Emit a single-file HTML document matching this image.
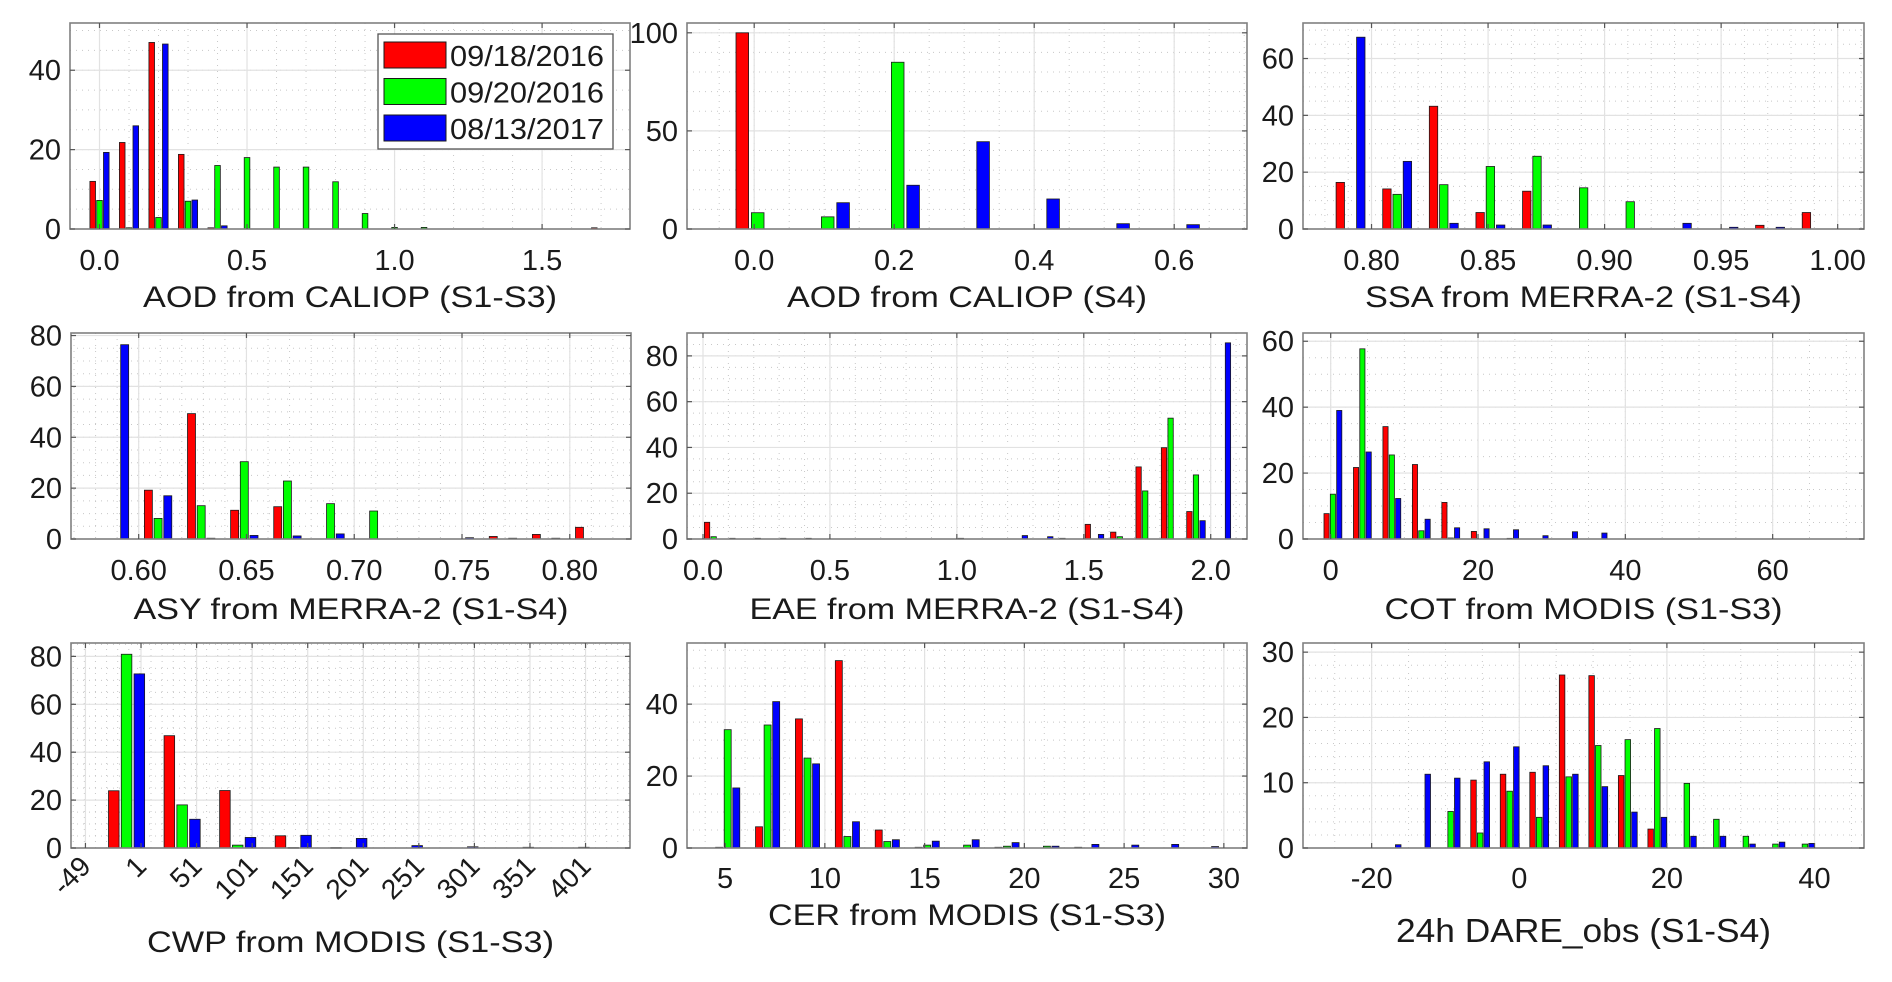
<!DOCTYPE html>
<html><head><meta charset="utf-8"><style>
html,body{margin:0;padding:0;background:#fff;}
svg{display:block;}
text{font-family:"Liberation Sans",sans-serif;fill:#1a1a1a;}
</style></head><body>
<svg id="fig" width="1892" height="982" viewBox="0 0 1892 982" xmlns="http://www.w3.org/2000/svg"></svg>
<script>
// ---------- Panel 1: AOD from CALIOP (S1-S3)
const p1Bins = [0,0.1,0.2,0.3,0.4,0.5,0.6,0.7,0.8,0.9,1.0,1.1,1.7];
const p1Red = [12,21.8,47,18.8,0.3,0,0,0,0,0,0,0,0.3];
const p1Green = [7.2,0.3,2.9,7,16,18,15.6,15.6,11.9,3.9,0.4,0.4,0];
const p1Blue = [19.3,26,46.6,7.3,0.8,0,0,0,0,0,0,0,0];
const p1XTicks = [0,0.5,1.0,1.5];
const p1XLabels = ["0.0","0.5","1.0","1.5"];
const p1YTicks = [0,20,40];
// ---------- Panel 2: AOD from CALIOP (S4)
const p2Bins = [0.005,0.105,0.205,0.305,0.405,0.505,0.605];
const p2Red = [100,0,0,0,0,0,0];
const p2Green = [8.3,6.2,85,0,0,0,0];
const p2Blue = [0,13.4,22.3,44.5,15.3,2.7,2.2];
const p2XTicks = [0,0.2,0.4,0.6];
const p2XLabels = ["0.0","0.2","0.4","0.6"];
const p2YTicks = [0,50,100];
// ---------- Panel 3: SSA
const p3Bins = [0.791,0.811,0.831,0.851,0.871,0.891,0.911,0.931,0.951,0.971,0.991];
const p3Red = [16.4,14.1,43.2,5.8,13.3,0,0,0,0,1.3,5.8];
const p3Green = [0,12.2,15.6,22,25.6,14.5,9.6,0,0,0,0];
const p3Blue = [67.5,23.8,2,1.4,1.4,0,0,2,0.6,0.6,0];
const p3XTicks = [0.80,0.85,0.90,0.95,1.00];
const p3XLabels = ["0.80","0.85","0.90","0.95","1.00"];
const p3YTicks = [0,20,40,60];
// ---------- Panel 4: ASY
const p4Bins = [0.589,0.609,0.629,0.649,0.669,0.689,0.709,0.729,0.749,0.769,0.789,0.809];
const p4Red = [0,19.2,49.3,11.3,12.7,0,0,0,0,1,1.8,4.6];
const p4Green = [0,8.1,13.1,30.4,22.8,13.9,11,0,0,0,0,0];
const p4Blue = [76.4,17,0.3,1.4,1.2,2,0,0,0.5,0.3,0.3,0];
const p4XTicks = [0.60,0.65,0.70,0.75,0.80];
const p4XLabels = ["0.60","0.65","0.70","0.75","0.80"];
const p4YTicks = [0,20,40,60,80];
// ---------- Panel 5: EAE
const p5Bins = [0.042,0.142,0.242,0.342,0.442,0.542,0.642,0.742,0.842,0.942,1.042,1.142,1.242,1.342,1.442,1.542,1.642,1.742,1.842,1.942,2.042];
const p5Red = [7.3,0.3,0.3,0.3,0.3,0,0,0,0,0,0.3,0,0,0,0.3,6.4,3,31.5,39.9,12,0];
const p5Green = [1,0,0,0,0,0,0,0,0,0,0,0,0,0,0,0,1,21,52.8,28,0];
const p5Blue = [0,0,0,0,0,0,0,0,0,0,0,0,1.5,1,0,2,0,0,0,8,85.7];
const p5XTicks = [0,0.5,1.0,1.5,2.0];
const p5XLabels = ["0.0","0.5","1.0","1.5","2.0"];
const p5YTicks = [0,20,40,60,80];
// ---------- Panel 6: COT
const p6Bins = [0.3,4.3,8.3,12.3,16.3,20.3,24.3,28.3,32.3,36.3];
const p6Red = [7.7,21.7,34.1,22.6,11.1,2.3,0,0,0,0];
const p6Green = [13.6,57.7,25.5,2.5,0.3,0,0.2,0,0,0];
const p6Blue = [39,26.4,12.3,6,3.4,3.1,2.8,1,2.2,1.8];
const p6XTicks = [0,20,40,60];
const p6XLabels = ["0","20","40","60"];
const p6YTicks = [0,20,40,60];
// ---------- Panel 7: CWP
const p7Bins = [-12,38,88,138,188,238,288,338,388];
const p7Red = [23.9,46.9,24,5.1,0.2,0,0,0,0];
const p7Green = [80.9,18,1.2,0.2,0,0,0,0,0];
const p7Blue = [72.7,12,4.4,5.3,4,1,0.5,0.3,0.3];
const p7XTicks = [-49,1,51,101,151,201,251,301,351,401];
const p7XLabels = ["-49","1","51","101","151","201","251","301","351","401"];
const p7YTicks = [0,20,40,60,80];
// ---------- Panel 8: CER
const p8Bins = [5.13,7.13,9.13,11.13,13.13,15.13,17.13,19.13,21.13,23.13,25.13,27.13,29.13];
const p8Red = [0.2,5.9,35.9,52.1,5,0.2,0,0.2,0,0.2,0,0,0];
const p8Green = [32.9,34.2,25,3.2,1.8,0.8,0.8,0.5,0.5,0,0,0,0];
const p8Blue = [16.7,40.7,23.4,7.3,2.3,1.9,2.3,1.5,0.5,1,0.8,1,0.4];
const p8XTicks = [5,10,15,20,25,30];
const p8XLabels = ["5","10","15","20","25","30"];
const p8YTicks = [0,20,40];
// ---------- Panel 9: DARE
const p9Bins = [-17.3,-13.3,-9.3,-5.3,-1.3,2.7,6.7,10.7,14.7,18.7,22.7,26.7,30.7,34.7,38.7];
const p9Red = [0,0,0,10.4,11.3,11.6,26.5,26.4,11.1,2.9,0,0,0,0,0];
const p9Green = [0,0,5.6,2.3,8.7,4.7,10.9,15.7,16.6,18.3,9.9,4.4,1.8,0.6,0.6];
const p9Blue = [0.5,11.3,10.7,13.2,15.5,12.6,11.3,9.4,5.5,4.7,1.8,1.8,0.6,0.9,0.7];
const p9XTicks = [-20,0,20,40];
const p9XLabels = ["-20","0","20","40"];
const p9YTicks = [0,10,20,30];

const legendLabels = ["09/18/2016","09/20/2016","08/13/2017"];
const seriesColors = ["#ff0000","#00ff00","#0000ff"];

const NS = "http://www.w3.org/2000/svg";
const svg = document.getElementById('fig');
function mk(tag, attrs, parent){
  const e = document.createElementNS(NS, tag);
  for (const k in attrs) e.setAttribute(k, attrs[k]);
  (parent||svg).appendChild(e);
  return e;
}

const panels = [
 {id:'aod-s1s3',box:[70,23,630,229],xlim:[-0.1,1.798],ymax:51.9,bins:p1Bins,r:p1Red,g:p1Green,b:p1Blue,xt:p1XTicks,xl:p1XLabels,yt:p1YTicks,off:0.023,w:0.019,mx:0.1,my:5,title:"AOD from CALIOP (S1-S3)",tw:414,ty:307,lab:260},
 {id:'aod-s4',box:[687,23,1247,229],xlim:[-0.096,0.704],ymax:105,bins:p2Bins,r:p2Red,g:p2Green,b:p2Blue,xt:p2XTicks,xl:p2XLabels,yt:p2YTicks,off:0.022,w:0.018,mx:0.05,my:10,title:"AOD from CALIOP (S4)",tw:360,ty:307,lab:260},
 {id:'ssa',box:[1303,23,1864,229],xlim:[0.7706,1.0113],ymax:72.5,bins:p3Bins,r:p3Red,g:p3Green,b:p3Blue,xt:p3XTicks,xl:p3XLabels,yt:p3YTicks,off:0.0044,w:0.0036,mx:0.01,my:5,title:"SSA from MERRA-2 (S1-S4)",tw:437,ty:307,lab:260},
 {id:'asy',box:[71,333,631,539],xlim:[0.5686,0.8284],ymax:81,bins:p4Bins,r:p4Red,g:p4Green,b:p4Blue,xt:p4XTicks,xl:p4XLabels,yt:p4YTicks,off:0.0045,w:0.0037,mx:0.01,my:5,title:"ASY from MERRA-2 (S1-S4)",tw:435,ty:619,lab:570},
 {id:'eae',box:[687,333,1247,539],xlim:[-0.063,2.143],ymax:90,bins:p5Bins,r:p5Red,g:p5Green,b:p5Blue,xt:p5XTicks,xl:p5XLabels,yt:p5YTicks,off:0.026,w:0.021,mx:0.1,my:5,title:"EAE from MERRA-2 (S1-S4)",tw:435,ty:619,lab:570},
 {id:'cot',box:[1303,333,1864,539],xlim:[-3.76,72.4],ymax:62.5,bins:p6Bins,r:p6Red,g:p6Green,b:p6Blue,xt:p6XTicks,xl:p6XLabels,yt:p6YTicks,off:0.86,w:0.7,mx:5,my:5,title:"COT from MODIS (S1-S3)",tw:398,ty:619,lab:570},
 {id:'cwp',box:[71,643,630,848],xlim:[-62,441],ymax:85.6,bins:p7Bins,r:p7Red,g:p7Green,b:p7Blue,xt:p7XTicks,xl:p7XLabels,yt:p7YTicks,off:11.5,w:9.5,mx:10,my:5,title:"CWP from MODIS (S1-S3)",tw:407,ty:952,lab:null,rot:true},
 {id:'cer',box:[687,643,1247,848],xlim:[3.09,31.16],ymax:57,bins:p8Bins,r:p8Red,g:p8Green,b:p8Blue,xt:p8XTicks,xl:p8XLabels,yt:p8YTicks,off:0.43,w:0.35,mx:1,my:5,title:"CER from MODIS (S1-S3)",tw:398,ty:925,lab:878},
 {id:'dare',box:[1303,643,1864,848],xlim:[-29.3,46.7],ymax:31.4,bins:p9Bins,r:p9Red,g:p9Green,b:p9Blue,xt:p9XTicks,xl:p9XLabels,yt:p9YTicks,off:0.9,w:0.75,mx:5,my:2,title:"24h DARE_obs (S1-S4)",tw:375,ty:942,lab:878,big:true}
];

panels.forEach(p=>{
  const [L,T,R,B] = p.box;
  const g = mk('g',{});
  
  
  const sx = v => L + (v - p.xlim[0])/(p.xlim[1]-p.xlim[0])*(R-L);
  const sy = v => B - v/p.ymax*(B-T);
  const mg = mk('g',{stroke:'#c8c8c8','stroke-width':1,'stroke-dasharray':'1 5'},g);
  
  
  const x0 = Math.ceil(p.xlim[0]/p.mx)*p.mx;
  for (let v=x0; v<p.xlim[1]; v+=p.mx){ const x=sx(v); mk('line',{x1:x,x2:x,y1:T,y2:B},mg); }
  for (let v=p.my; v<p.ymax; v+=p.my){ const y=sy(v); mk('line',{x1:L,x2:R,y1:y,y2:y},mg); }
  const gg = mk('g',{stroke:'#e2e2e2','stroke-width':1.2},g);
  
  
  p.xt.forEach(v=>{ const x=sx(v); mk('line',{x1:x,x2:x,y1:T,y2:B},gg); });
  p.yt.forEach(v=>{ const y=sy(v); mk('line',{x1:L,x2:R,y1:y,y2:y},gg); });
  const series = [p.r,p.g,p.b];
  const names = ['red','green','blue'];
  series.forEach((arr,si)=>{
    arr.forEach((v,i)=>{
      if (v<=0) return;
      const c = p.bins[i] + (si-1)*p.off;
      const xa = sx(c - p.w/2), xb = sx(c + p.w/2);
      const y = sy(v);
      const rect = mk('rect',{x:xa,y:y,width:Math.max(xb-xa,1),height:Math.max(B-y,0.8),fill:seriesColors[si],stroke:'#1a1a1a','stroke-width':0.8},g);
      
      
    });
  });
  const bx = mk('rect',{x:L,y:T,width:R-L,height:B-T,fill:'none',stroke:'#808080','stroke-width':1.6},g);
  
  
  const tk = mk('g',{stroke:'#555','stroke-width':1.2},g);
  p.xt.forEach(v=>{ const x=sx(v); mk('line',{x1:x,x2:x,y1:B,y2:B-5},tk); mk('line',{x1:x,x2:x,y1:T,y2:T+5},tk); });
  p.yt.forEach(v=>{ const y=sy(v); mk('line',{x1:L,x2:L+5,y1:y,y2:y},tk); mk('line',{x1:R,x2:R-5,y1:y,y2:y},tk); });
  p.xt.forEach((v,i)=>{
    const x=sx(v);
    let t;
    if (p.rot){
      t = mk('text',{x:x+7,y:868,'font-size':28,'text-anchor':'end',transform:`rotate(-45 ${x+7} 868)`},g);
    } else {
      t = mk('text',{x:x,y:p.lab+10,'font-size':29,'text-anchor':'middle'},g);
    }
    t.textContent = p.xl[i];
    
    
  });
  p.yt.forEach(v=>{
    const t = mk('text',{x:L-9,y:sy(v)+10,'font-size':29,'text-anchor':'end'},g);
    t.textContent = String(v);
    
    
  });
  const tt = mk('text',{x:(L+R)/2,y:p.ty,'font-size':p.big?33:30,'text-anchor':'middle',textLength:p.tw,lengthAdjust:'spacingAndGlyphs'},g);
  if (p.big) tt.setAttribute('fill','#000');
  tt.textContent = p.title;
  
  
});

const lg = mk('g',{});


mk('rect',{x:378,y:34,width:235,height:115,fill:'#fff',stroke:'#555','stroke-width':1.3},lg);
legendLabels.forEach((lab,i)=>{
  const y = 42 + i*36.5;
  const e = mk('g',{},lg);
  
  
  mk('rect',{x:384,y:y,width:62,height:26,fill:seriesColors[i],stroke:'#1a1a1a','stroke-width':1},e);
  const t = mk('text',{x:450,y:y+24,'font-size':29,textLength:154,lengthAdjust:'spacingAndGlyphs'},e);
  t.textContent = lab;
});
</script>
</body></html>
